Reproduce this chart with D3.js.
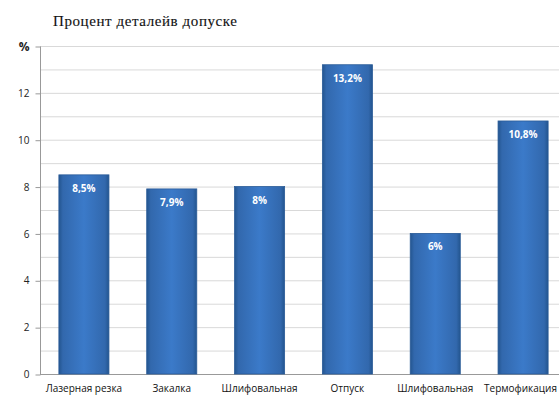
<!DOCTYPE html>
<meta charset="utf-8">
<style>
body { margin: 0; background: #fff; }
.grid line { stroke: #d9d9d9; stroke-width: 1px; }
.axis text { font: 10px "Open Sans", sans-serif; fill: #222; }
.axis path, .axis line { stroke: #999; }
.lbl { font: bold 10px "Open Sans", sans-serif; fill: #fff; }
</style>
<body>
<script src="https://d3js.org/d3.v7.min.js"></script>
<script>
// data
var categories = ["Лазерная резка", "Закалка", "Шлифовальная", "Отпуск", "Шлифовальная ", "Термофикация"];
var values = [8.5, 7.9, 8, 13.2, 6, 10.8];
var valueLabels = ["8,5%", "7,9%", "8%", "13,2%", "6%", "10,8%"];
var yTicks = [0, 2, 4, 6, 8, 10, 12, 14];

var width = 559, height = 403;
var svg = d3.select("body").append("svg")
    .attr("width", width)
    .attr("height", height);

var defs = svg.append("defs");
var grad = defs.append("linearGradient").attr("id", "barGrad")
    .attr("x1", "0%").attr("x2", "100%").attr("y1", "0%").attr("y2", "0%");
grad.append("stop").attr("offset", "0%").attr("stop-color", "#23558f");
grad.append("stop").attr("offset", "8%").attr("stop-color", "#3268ad");
grad.append("stop").attr("offset", "50%").attr("stop-color", "#3b7ac9");
grad.append("stop").attr("offset", "92%").attr("stop-color", "#3268ad");
grad.append("stop").attr("offset", "100%").attr("stop-color", "#23558f");

var x = d3.scaleBand()
    .domain(categories)
    .range([40, 567])
    .paddingInner(0.43)
    .paddingOuter(0.215);

var y = d3.scaleLinear()
    .domain([0, 14])
    .range([374, 46]);

// gridlines every 1 unit
svg.append("g").attr("class", "grid")
    .selectAll("line")
    .data(d3.range(1, 15))
    .enter().append("line")
    .attr("x1", 40).attr("x2", width)
    .attr("y1", function(d) { return y(d) + 0.5; })
    .attr("y2", function(d) { return y(d) + 0.5; });

// y axis
var yAxis = svg.append("g").attr("class", "axis")
    .attr("transform", "translate(40.5,0.5)")
    .call(d3.axisLeft(y).tickValues(yTicks).tickSize(5).tickPadding(6)
        .tickFormat(function(d) { return d === 14 ? "%" : d; }));
yAxis.select(".domain").attr("d", "M0," + y(14) + "V" + y(0));
yAxis.selectAll(".tick text").filter(function(d) { return d === 14; })
    .style("font-size", "12px").style("font-weight", "bold");

// x baseline
svg.append("line")
    .attr("x1", 40).attr("x2", width)
    .attr("y1", y(0) + 0.5).attr("y2", y(0) + 0.5)
    .attr("stroke", "#999");

// bars
var bars = svg.append("g").selectAll("g")
    .data(values)
    .enter().append("g");

bars.append("rect")
    .attr("x", function(d, i) { return x(categories[i]); })
    .attr("y", function(d) { return y(d); })
    .attr("width", x.bandwidth())
    .attr("height", function(d) { return y(0) - y(d); })
    .attr("fill", "url(#barGrad)")
    .attr("stroke", "#2a5b98")
    .attr("stroke-width", 0.8);

bars.append("text")
    .attr("class", "lbl")
    .attr("x", function(d, i) { return x(categories[i]) + x.bandwidth() / 2; })
    .attr("y", function(d) { return y(d) + 17; })
    .attr("text-anchor", "middle")
    .text(function(d, i) { return valueLabels[i]; });

// category labels (last one kept inside the right edge)
svg.append("g").selectAll("text")
    .data(categories)
    .enter().append("text")
    .attr("x", function(d) { return x(d) + x.bandwidth() / 2; })
    .attr("y", 392)
    .attr("text-anchor", "middle")
    .style("font", "10px 'Open Sans', sans-serif")
    .style("fill", "#111")
    .text(function(d) { return d.trim(); })
    .each(function() {
        var b = this.getBBox();
        if (b.x + b.width > width - 2) {
            d3.select(this).attr("x", +d3.select(this).attr("x") - (b.x + b.width - width + 2));
        }
    });

// title
svg.append("text")
    .attr("x", 53)
    .attr("y", 26)
    .attr("textLength", 184)
    .attr("lengthAdjust", "spacing")
    .style("font", "15px 'Liberation Serif', serif")
    .style("fill", "#111")
    .style("stroke", "#111")
    .style("stroke-width", 0.12)
    .text("Процент деталейв допуске");
</script>
</body>
